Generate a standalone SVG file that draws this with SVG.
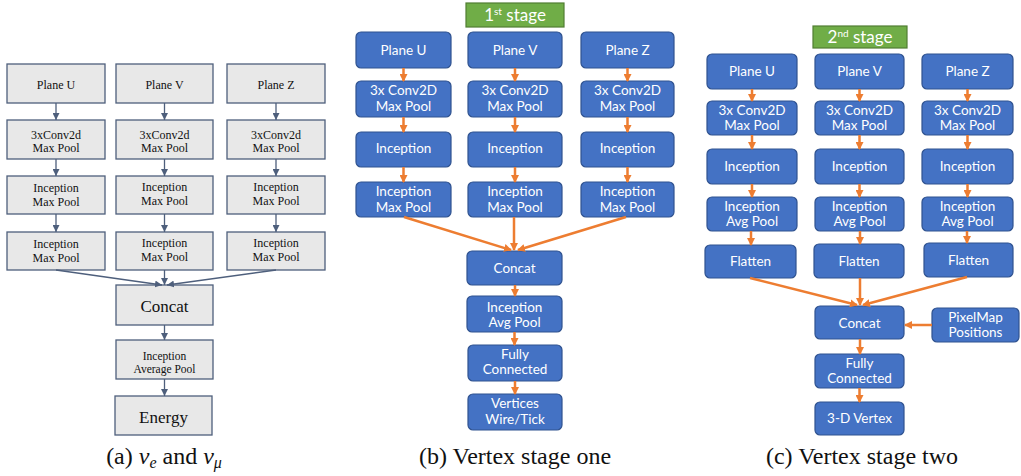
<svg xmlns="http://www.w3.org/2000/svg" width="1021" height="476" viewBox="0 0 1021 476">
<style>
.ga rect{fill:#e8e8e8;stroke:#4e5f7c;stroke-width:1.3}
.ga text{font-family:"Liberation Serif",serif;font-size:12px;fill:#111;text-anchor:middle}
.gb rect{fill:#4472c4;stroke:#2f528f;stroke-width:1.2}
.gb text{font-family:Lato,"Liberation Sans",sans-serif;font-size:13.5px;fill:#fff;text-anchor:middle}
.stg rect{fill:#70ad47;stroke:#507e32;stroke-width:1.2}
.stg text{font-family:Lato,"Liberation Sans",sans-serif;font-size:17px;fill:#fff;text-anchor:middle}
.ca{stroke:#4e5f7c;stroke-width:1.3;fill:none;marker-end:url(#ma)}
.cb{stroke:#ed7d31;stroke-width:2.5;fill:none;marker-end:url(#mb)}
.cap{font-family:"Liberation Serif",serif;font-size:24px;fill:#111;text-anchor:middle}
</style>
<defs>
<marker id="ma" markerUnits="userSpaceOnUse" markerWidth="7" markerHeight="7" refX="7" refY="3.5" orient="auto"><path d="M0,0 L7,3.5 L0,7 z" fill="#4e5f7c"/></marker>
<marker id="mb" markerUnits="userSpaceOnUse" markerWidth="8" markerHeight="8" refX="7" refY="4" orient="auto"><path d="M0,0 L8,4 L0,8 z" fill="#ed7d31"/></marker>
</defs>

<!-- Panel (a) -->
<g class="ga">
<g id="a-planeU"><rect x="7" y="64" width="98" height="39"/><text x="56" y="89">Plane U</text></g>
<g id="a-planeV"><rect x="116" y="64" width="97" height="39"/><text x="164.5" y="89">Plane V</text></g>
<g id="a-planeZ"><rect x="227" y="64" width="98" height="39"/><text x="276" y="89">Plane Z</text></g>
<g id="a-convU"><rect x="7" y="120" width="98" height="39"/><text x="56" y="139">3xConv2d</text><text x="56" y="152">Max Pool</text></g>
<g id="a-convV"><rect x="116" y="120" width="97" height="39"/><text x="164.5" y="139">3xConv2d</text><text x="164.5" y="152">Max Pool</text></g>
<g id="a-convZ"><rect x="227" y="120" width="98" height="39"/><text x="276" y="139">3xConv2d</text><text x="276" y="152">Max Pool</text></g>
<g id="a-inc1U"><rect x="7" y="176" width="98" height="38"/><text x="56" y="192">Inception</text><text x="56" y="206">Max Pool</text></g>
<g id="a-inc1V"><rect x="116" y="176" width="97" height="38"/><text x="164.5" y="191">Inception</text><text x="164.5" y="205">Max Pool</text></g>
<g id="a-inc1Z"><rect x="227" y="176" width="98" height="38"/><text x="276" y="191">Inception</text><text x="276" y="205">Max Pool</text></g>
<g id="a-inc2U"><rect x="7" y="232" width="98" height="38"/><text x="56" y="248">Inception</text><text x="56" y="262">Max Pool</text></g>
<g id="a-inc2V"><rect x="116" y="232" width="97" height="38"/><text x="164.5" y="247">Inception</text><text x="164.5" y="261">Max Pool</text></g>
<g id="a-inc2Z"><rect x="227" y="232" width="98" height="38"/><text x="276" y="247">Inception</text><text x="276" y="261">Max Pool</text></g>
<g id="a-concat"><rect x="116" y="285" width="97" height="40"/><text x="164.5" y="312" style="font-size:17px">Concat</text></g>
<g id="a-incavg"><rect x="116" y="340" width="97" height="39"/><text x="164.5" y="360" style="font-size:11.5px">Inception</text><text x="164.5" y="373" style="font-size:11.5px">Average Pool</text></g>
<g id="a-energy"><rect x="115" y="396" width="97" height="39"/><text x="163.5" y="423" style="font-size:17px">Energy</text></g>
</g>
<g id="a-connectors">
<path class="ca" d="M56,103 V120"/><path class="ca" d="M164.5,103 V120"/><path class="ca" d="M276,103 V120"/>
<path class="ca" d="M56,159 V176"/><path class="ca" d="M164.5,159 V176"/><path class="ca" d="M276,159 V176"/>
<path class="ca" d="M56,214 V232"/><path class="ca" d="M164.5,214 V232"/><path class="ca" d="M276,214 V232"/>
<path class="ca" d="M56,270 L162,285"/><path class="ca" d="M164.5,270 V285"/><path class="ca" d="M276,270 L167,285"/>
<path class="ca" d="M164.5,325 V340"/><path class="ca" d="M164.5,379 V396"/>
</g>
<text class="cap" x="164" y="464">(a) <tspan font-style="italic">ν</tspan><tspan font-style="italic" font-size="16" dy="4">e</tspan><tspan dy="-4"> and </tspan><tspan font-style="italic">ν</tspan><tspan font-style="italic" font-size="16" dy="4">μ</tspan></text>

<!-- Panel (b) -->
<g id="b-stage" class="stg"><rect x="466" y="3" width="98" height="24"/><text x="515" y="21">1<tspan font-size="10" dy="-6">st</tspan><tspan dy="6"> stage</tspan></text></g>
<g class="gb">
<g id="b-planeU"><rect x="356" y="32" width="95" height="36" rx="5"/><text x="403.5" y="55">Plane U</text></g>
<g id="b-planeV"><rect x="468" y="32" width="94" height="36" rx="5"/><text x="515" y="55">Plane V</text></g>
<g id="b-planeZ"><rect x="581" y="32" width="93" height="36" rx="5"/><text x="627.5" y="55">Plane Z</text></g>
<g id="b-convU"><rect x="356" y="81" width="95" height="36" rx="5"/><text x="403.5" y="95">3x Conv2D</text><text x="403.5" y="111">Max Pool</text></g>
<g id="b-convV"><rect x="468" y="81" width="94" height="36" rx="5"/><text x="515" y="95">3x Conv2D</text><text x="515" y="111">Max Pool</text></g>
<g id="b-convZ"><rect x="581" y="81" width="93" height="36" rx="5"/><text x="627.5" y="95">3x Conv2D</text><text x="627.5" y="111">Max Pool</text></g>
<g id="b-incU"><rect x="356" y="132" width="95" height="35" rx="5"/><text x="403.5" y="153">Inception</text></g>
<g id="b-incV"><rect x="468" y="132" width="94" height="35" rx="5"/><text x="515" y="153">Inception</text></g>
<g id="b-incZ"><rect x="581" y="132" width="93" height="35" rx="5"/><text x="627.5" y="153">Inception</text></g>
<g id="b-incmaxU"><rect x="356" y="182" width="95" height="35" rx="5"/><text x="403.5" y="196">Inception</text><text x="403.5" y="212">Max Pool</text></g>
<g id="b-incmaxV"><rect x="468" y="182" width="94" height="35" rx="5"/><text x="515" y="196">Inception</text><text x="515" y="212">Max Pool</text></g>
<g id="b-incmaxZ"><rect x="581" y="182" width="93" height="35" rx="5"/><text x="627.5" y="196">Inception</text><text x="627.5" y="212">Max Pool</text></g>
<g id="b-concat"><rect x="467" y="251" width="95" height="34" rx="5"/><text x="514.5" y="273">Concat</text></g>
<g id="b-incavg"><rect x="467" y="296" width="95" height="36" rx="5"/><text x="514.5" y="312">Inception</text><text x="514.5" y="327">Avg Pool</text></g>
<g id="b-fc"><rect x="468" y="345" width="94" height="36" rx="5"/><text x="515" y="359">Fully</text><text x="515" y="374">Connected</text></g>
<g id="b-vert"><rect x="468" y="394" width="94" height="36" rx="5"/><text x="515" y="408">Vertices</text><text x="515" y="424">Wire/Tick</text></g>
</g>
<g id="b-connectors">
<path class="cb" d="M403.5,68 V81"/><path class="cb" d="M515,68 V81"/><path class="cb" d="M627.5,68 V81"/>
<path class="cb" d="M403.5,117 V132"/><path class="cb" d="M515,117 V132"/><path class="cb" d="M627.5,117 V132"/>
<path class="cb" d="M403.5,167 V182"/><path class="cb" d="M515,167 V182"/><path class="cb" d="M627.5,167 V182"/>
<path class="cb" d="M404,217 L511,250"/><path class="cb" d="M514,217 V250"/><path class="cb" d="M626,217 L518,250"/>
<path class="cb" d="M515,285 V296"/><path class="cb" d="M514.5,332 V345"/><path class="cb" d="M515,381 V394"/>
</g>
<text class="cap" x="515" y="464">(b) Vertex stage one</text>

<!-- Panel (c) -->
<g id="c-stage" class="stg"><rect x="813" y="26" width="94" height="22"/><text x="860" y="43">2<tspan font-size="10" dy="-6">nd</tspan><tspan dy="6"> stage</tspan></text></g>
<g class="gb">
<g id="c-planeU"><rect x="707" y="54" width="90" height="35" rx="5"/><text x="752" y="76">Plane U</text></g>
<g id="c-planeV"><rect x="815" y="54" width="89" height="35" rx="5"/><text x="859.5" y="76">Plane V</text></g>
<g id="c-planeZ"><rect x="922" y="54" width="91" height="35" rx="5"/><text x="967.5" y="76">Plane Z</text></g>
<g id="c-convU"><rect x="707" y="101" width="90" height="34" rx="5"/><text x="752" y="115">3x Conv2D</text><text x="752" y="130">Max Pool</text></g>
<g id="c-convV"><rect x="815" y="101" width="89" height="34" rx="5"/><text x="859.5" y="115">3x Conv2D</text><text x="859.5" y="130">Max Pool</text></g>
<g id="c-convZ"><rect x="922" y="101" width="91" height="34" rx="5"/><text x="967.5" y="115">3x Conv2D</text><text x="967.5" y="130">Max Pool</text></g>
<g id="c-incU"><rect x="707" y="149" width="90" height="35" rx="5"/><text x="752" y="171">Inception</text></g>
<g id="c-incV"><rect x="815" y="149" width="89" height="35" rx="5"/><text x="859.5" y="171">Inception</text></g>
<g id="c-incZ"><rect x="922" y="149" width="91" height="35" rx="5"/><text x="967.5" y="171">Inception</text></g>
<g id="c-incavgU"><rect x="707" y="197" width="90" height="34" rx="5"/><text x="752" y="211">Inception</text><text x="752" y="226">Avg Pool</text></g>
<g id="c-incavgV"><rect x="815" y="197" width="89" height="34" rx="5"/><text x="859.5" y="211">Inception</text><text x="859.5" y="226">Avg Pool</text></g>
<g id="c-incavgZ"><rect x="922" y="197" width="91" height="34" rx="5"/><text x="967.5" y="211">Inception</text><text x="967.5" y="226">Avg Pool</text></g>
<g id="c-flatU"><rect x="705" y="245" width="91" height="33" rx="5"/><text x="750.5" y="266">Flatten</text></g>
<g id="c-flatV"><rect x="814" y="244" width="90" height="34" rx="5"/><text x="859" y="266">Flatten</text></g>
<g id="c-flatZ"><rect x="924" y="243" width="89" height="34" rx="5"/><text x="968.5" y="265">Flatten</text></g>
<g id="c-concat"><rect x="815" y="306" width="89" height="33" rx="5"/><text x="859.5" y="328">Concat</text></g>
<g id="c-pixel"><rect x="932" y="308" width="87" height="34" rx="5"/><text x="975.5" y="322">PixelMap</text><text x="975.5" y="337">Positions</text></g>
<g id="c-fc"><rect x="815" y="354" width="89" height="34" rx="5"/><text x="859.5" y="368">Fully</text><text x="859.5" y="383">Connected</text></g>
<g id="c-vert"><rect x="815" y="402" width="89" height="33" rx="5"/><text x="859.5" y="423">3-D Vertex</text></g>
</g>
<g id="c-connectors">
<path class="cb" d="M752,89 V101"/><path class="cb" d="M859.5,89 V101"/><path class="cb" d="M967.5,89 V101"/>
<path class="cb" d="M752,135 V149"/><path class="cb" d="M859.5,135 V149"/><path class="cb" d="M967.5,135 V149"/>
<path class="cb" d="M752,184 V197"/><path class="cb" d="M859.5,184 V197"/><path class="cb" d="M967.5,184 V197"/>
<path class="cb" d="M751,231 V245"/><path class="cb" d="M860,231 V244"/><path class="cb" d="M967,231 V243"/>
<path class="cb" d="M750,278 L857,305"/><path class="cb" d="M860,278 V305"/><path class="cb" d="M967,277 L863,305"/>
<path class="cb" d="M932,325 H905"/>
<path class="cb" d="M860,339 V354"/><path class="cb" d="M859.5,388 V402"/>
</g>
<text class="cap" x="862" y="464">(c) Vertex stage two</text>
</svg>
